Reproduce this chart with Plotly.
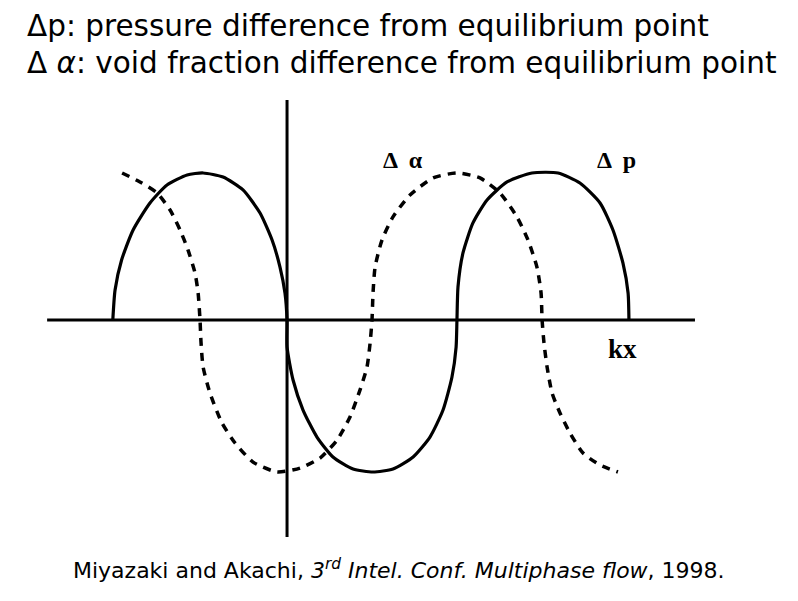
import plotly.graph_objects as go

# curves; x in units of pi (kx/pi), y normalised to amplitude 1
dp_x = [-1.013, -1.0, -0.962, -0.895, -0.797, -0.698, -0.581, -0.488, -0.372, -0.256, -0.157, -0.087, -0.041, -0.012, 0.0,
        0.0, 0.035, 0.093, 0.174, 0.267, 0.384, 0.5, 0.616, 0.733, 0.831, 0.907, 0.959, 0.983, 0.988,
        0.994, 1.023, 1.081, 1.163, 1.279, 1.424, 1.576, 1.703, 1.820, 1.895, 1.953, 1.983, 1.988]
dp_y = [0, 0.2, 0.4, 0.6, 0.78, 0.9, 0.967, 0.98, 0.953, 0.867, 0.713, 0.533, 0.353, 0.18, 0,
        -0.18, -0.4, -0.6, -0.78, -0.913, -0.993, -1.013, -0.993, -0.913, -0.78, -0.6, -0.38, -0.18, 0,
        0.22, 0.447, 0.647, 0.8, 0.92, 0.98, 0.98, 0.913, 0.78, 0.6, 0.38, 0.18, 0]

da_x = [-0.959, -0.855, -0.756, -0.680, -0.622, -0.576, -0.535, -0.517, -0.506,
        -0.5, -0.488, -0.448, -0.378, -0.302, -0.198, -0.058, 0.076, 0.192, 0.291, 0.366, 0.424, 0.465, 0.483, 0.494,
        0.5, 0.512, 0.552, 0.616, 0.715, 0.849, 0.988, 1.122, 1.238, 1.337, 1.401, 1.453, 1.477, 1.483,
        1.494, 1.512, 1.541, 1.587, 1.645, 1.721, 1.820, 1.924]
da_y = [0.98, 0.92, 0.847, 0.733, 0.6, 0.467, 0.313, 0.18, 0,
        -0.153, -0.313, -0.487, -0.687, -0.82, -0.947, -1.013, -0.987, -0.92, -0.8, -0.647, -0.467, -0.313, -0.153, 0,
        0.18, 0.353, 0.533, 0.687, 0.833, 0.947, 0.98, 0.947, 0.847, 0.687, 0.533, 0.353, 0.18, 0,
        -0.153, -0.313, -0.487, -0.62, -0.753, -0.887, -0.967, -1.013]

# hand-drawn axes extents
x_axis = [-1.395, 2.372]
y_axis = [-1.447, 1.467]

legend_lines = ['\u0394p: pressure difference from equilibrium point',
                '\u0394 <i>\u03b1</i>: void fraction difference from equilibrium point']
source = 'Miyazaki and Akachi, <i>3<sup>rd</sup> Intel. Conf. Multiphase flow</i>, 1998.'

fig = go.Figure()
fig.add_trace(go.Scatter(x=x_axis, y=[0, 0], mode='lines', line=dict(color='black', width=3), hoverinfo='skip'))
fig.add_trace(go.Scatter(x=[0, 0], y=y_axis, mode='lines', line=dict(color='black', width=3), hoverinfo='skip'))
fig.add_trace(go.Scatter(x=dp_x, y=dp_y, mode='lines', name='\u0394p',
                         line=dict(color='black', width=3.2, shape='spline', smoothing=0.6)))
fig.add_trace(go.Scatter(x=da_x, y=da_y, mode='lines', name='\u0394\u03b1',
                         line=dict(color='black', width=3.5, dash='8px,7px', shape='spline', smoothing=0.6)))

serif = dict(family='Liberation Serif', size=24, color='black')
fig.add_annotation(x=0.674, y=1.067, text='<b>\u0394  \u03b1</b>', showarrow=False, font=serif)
fig.add_annotation(x=1.913, y=1.067, text='<b>\u0394  p</b>', showarrow=False, font=serif)
fig.add_annotation(x=1.953, y=-0.193, text='<b>kx</b>', showarrow=False,
                   font=dict(family='Liberation Serif', size=27, color='black'))

sans = dict(family='DejaVu Sans', size=29.5, color='black')
fig.add_annotation(text=legend_lines[0], xref='paper', yref='paper', x=0.031, y=0.956,
                   xanchor='left', yanchor='middle', showarrow=False, font=sans)
fig.add_annotation(text=legend_lines[1], xref='paper', yref='paper', x=0.031, y=0.896,
                   xanchor='left', yanchor='middle', showarrow=False, font=sans)
fig.add_annotation(text=source, xref='paper', yref='paper', x=0.4994, y=0.053,
                   xanchor='center', yanchor='middle', showarrow=False,
                   font=dict(family='DejaVu Sans', size=22, color='black'))

fig.update_xaxes(visible=False, range=[-1.669, 2.971])
fig.update_yaxes(visible=False, range=[-1.873, 2.133])
fig.update_layout(width=798, height=601, margin=dict(l=0, r=0, t=0, b=0),
                  showlegend=False, paper_bgcolor='white', plot_bgcolor='white')

fig.write_html("out.html", config={'displayModeBar': False},
               post_script="document.body.style.margin='0';")
